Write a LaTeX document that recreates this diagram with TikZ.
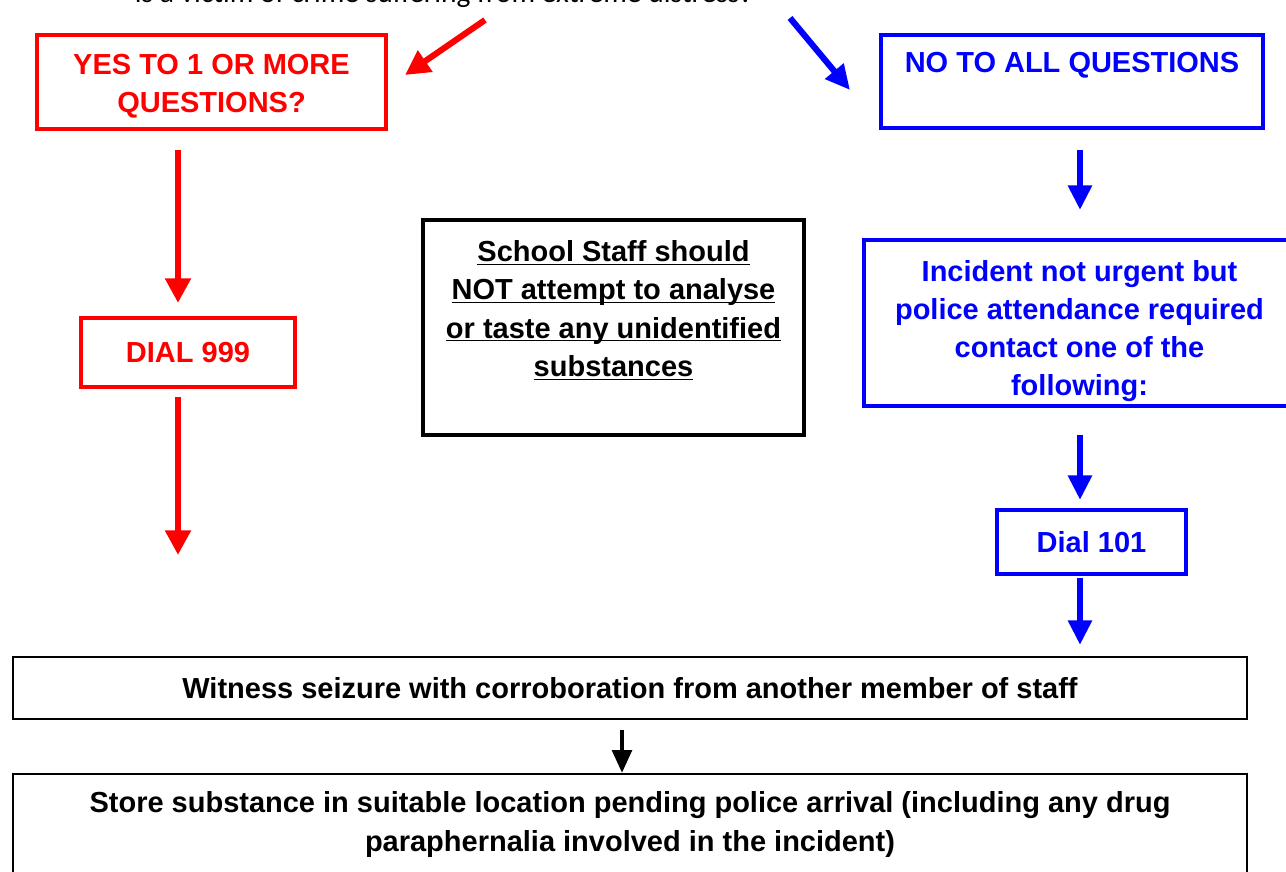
\documentclass[tikz,border=0pt]{standalone}
\usepackage{fontspec}
\setmainfont{Liberation Sans}
\newfontfamily\calibri{Carlito}
\usetikzlibrary{positioning, arrows.meta}
\newcommand\staffline[1]{\underline{\smash{#1}}}

\begin{document}
\begin{tikzpicture}[
    x=0.02cm, y=-0.02cm,
    box/.style={draw, line width=2.3pt, align=center, inner sep=2pt, font=\bfseries\fontsize{16.5}{21.8}\selectfont},
    redbox/.style={box, draw=red, text=red},
    bluebox/.style={box, draw=blue, text=blue},
    staffbox/.style={box, draw=black},
    stepbox/.style={box, draw=black, line width=1.2pt},
    redarrow/.style={-{Triangle[width=14pt, length=14pt]}, line width=3.5pt, red},
    bluearrow/.style={-{Triangle[width=13pt, length=14pt]}, line width=3.5pt, blue},
    arrow/.style={-{Triangle[width=11pt, length=13pt]}, line width=2.6pt},
]
\useasboundingbox (0,0) rectangle (1286,872);

% Nodes
\node[anchor=base, font=\calibri\fontsize{16.8}{20}\selectfont] (question) at (444,3) {is a victim of crime suffering from extreme distress?};

\node[redbox, minimum width=6.98cm, minimum height=1.88cm] (yes) at (211.5,82) {\mbox{}\\[-5.2pt]YES TO 1 OR MORE\\QUESTIONS?};
\node[bluebox, minimum width=7.64cm, minimum height=1.86cm] (no) at (1072,81.5) {NO TO ALL QUESTIONS\\ ~};
\node[redbox, minimum width=4.28cm, minimum height=1.38cm] (dial999) at (188,352.5) {DIAL 999};
\node[staffbox, minimum width=7.62cm, minimum height=4.3cm] (staff) at (613.5,327.5) {\staffline{School Staff should}\\ \staffline{NOT attempt to analyse}\\ \staffline{or taste any unidentified}\\ \staffline{substances}\\[-12.2pt] ~};
\node[bluebox, minimum width=8.62cm, minimum height=3.32cm] (incident) at (1079.5,323) {\mbox{}\\[-0.7pt]Incident not urgent but\\police attendance required\\contact one of the\\following:};
\node[bluebox, minimum width=3.78cm, minimum height=1.28cm] (dial101) at (1091.5,542) {Dial 101};
\node[stepbox, minimum width=24.68cm, minimum height=1.24cm] (witness) at (630,688) {Witness seizure with corroboration from another member of staff};
\node[stepbox, minimum width=24.68cm, minimum height=2.02cm] (store) at (630,824.5) {Store substance in suitable location pending police arrival (including any drug\\paraphernalia involved in the incident)};

% Arrow ends
\coordinate (yesfrom) at (485,20);
\coordinate (yesto) at (405,75);
\coordinate (nofrom) at (790,18);
\coordinate (noto) at (850,90);
\coordinate (redx) at (178,0);
\coordinate (redend) at (178,555);
\coordinate (bluex) at (1080,0);
\coordinate (blackx) at (622,0);

% Arrows between nodes
\draw[redarrow] (yesfrom) -- (yesto);
\draw[bluearrow] (nofrom) -- (noto);

\draw[redarrow, shorten <=0.38cm, shorten >=0.26cm] (yes.south -| redx) -- (dial999.north -| redx);
\draw[redarrow, shorten <=0.16cm] (dial999.south -| redx) -- (redend);

\draw[bluearrow, shorten <=0.4cm, shorten >=0.56cm] (no.south -| bluex) -- (incident.north -| bluex);
\draw[bluearrow, shorten <=0.54cm, shorten >=0.16cm] (incident.south -| bluex) -- (dial101.north -| bluex);
\draw[bluearrow, shorten <=0.04cm, shorten >=0.22cm] (dial101.south -| bluex) -- (witness.north -| bluex);

\draw[arrow, shorten <=0.2cm] (witness.south -| blackx) -- (store.north -| blackx);

\end{tikzpicture}
\end{document}
